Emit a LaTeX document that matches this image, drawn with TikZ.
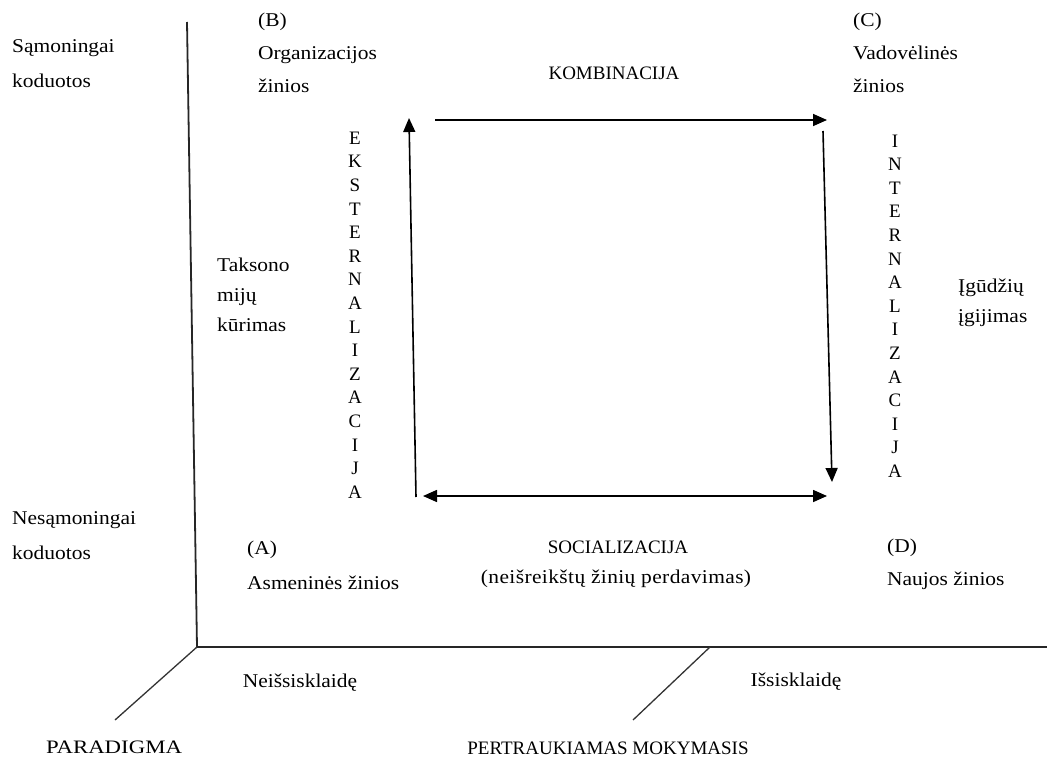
\documentclass[tikz,border=0pt]{standalone}
\usepackage{fontspec}
\setmainfont{Liberation Serif}
\usetikzlibrary{arrows.meta}
\newcommand{\wide}{\addfontfeature{FakeStretch=1.1}}
\begin{document}
\begin{tikzpicture}[x=1pt,y=-1pt,
  txt/.style={inner sep=0pt, font=\fontsize{19.5}{30}\selectfont\wide},
  caps/.style={inner sep=0pt, font=\fontsize{19}{30}\selectfont},
  lines35/.style={txt, align=left, font=\fontsize{19.5}{35}\selectfont\wide},
  lines33/.style={txt, align=left, font=\fontsize{19.5}{33}\selectfont\wide},
  lines30/.style={txt, align=left, font=\fontsize{19.5}{30}\selectfont\wide},
  column/.style={txt, align=center, font=\fontsize{19}{23.6}\selectfont},
  axis/.style={line width=1.8pt, draw=black!85},
  slant/.style={line width=1.3pt, draw=black!80},
  flow/.style={line width=1.6pt, -{Triangle[length=14pt,width=12pt]}},
  flowboth/.style={line width=1.6pt, {Triangle[length=14pt,width=12pt]}-{Triangle[length=14pt,width=12pt]}}]
\useasboundingbox (0,0) rectangle (1047,757);

% axes of the three-dimensional frame
\coordinate (o) at (197,647);
\coordinate (ytop) at (187,22);
\coordinate (xend) at (1047,647);
\coordinate (pd) at (115,720);
\coordinate (m1) at (710,647);
\coordinate (m2) at (633,720);
\draw[axis] (ytop) -- (o) -- (xend);
\draw[slant] (o) -- (pd);
\draw[slant] (m1) -- (m2);

% knowledge conversion cycle
\coordinate (eb) at (416,497);
\coordinate (et) at (409,118);
\coordinate (kl) at (435,120);
\coordinate (kr) at (827,120);
\coordinate (it) at (823,131);
\coordinate (ib) at (832,482);
\coordinate (sl) at (423,496);
\coordinate (sr) at (827,496);
\draw[flow] (eb) -- (et);
\draw[flow] (kl) -- (kr);
\draw[flow] (it) -- (ib);
\draw[flowboth] (sl) -- (sr);

% vertical axis labels
\node[lines35, anchor=west] (conscious) at (12,64) {Sąmoningai\\koduotos};
\node[lines35, anchor=west] (unconscious) at (12,536) {Nesąmoningai\\koduotos};

% quadrant labels
\node[lines33, anchor=west] (qb) at (258,53) {(B)\\Organizacijos\\žinios};
\node[lines33, anchor=west] (qc) at (853,53) {(C)\\Vadovėlinės\\žinios};
\node[lines35, anchor=west] (qa) at (247,565) {(A)\\Asmeninės žinios};
\node[lines33, anchor=west] (qd) at (887,564) {(D)\\Naujos žinios};

% conversion process labels
\node[caps] (komb) at (614,73) {KOMBINACIJA};
\node[caps] (soc) at (618,547) {SOCIALIZACIJA};
\node[txt, font=\fontsize{19.5}{30}\selectfont\wide\addfontfeature{LetterSpace=2}] (socsub) at (616,579) {(neišreikštų žinių perdavimas)};
\node[column] (ext) at (355,315) {E\\K\\S\\T\\E\\R\\N\\A\\L\\I\\Z\\A\\C\\I\\J\\A};
\node[column] (int) at (895,306) {I\\N\\T\\E\\R\\N\\A\\L\\I\\Z\\A\\C\\I\\J\\A};
\node[lines30, anchor=west] (tax) at (217,295) {Taksono\\mijų\\kūrimas};
\node[lines30, anchor=west] (skill) at (958,303) {Įgūdžių\\įgijimas};

% horizontal axis labels
\node[txt] (dispersed0) at (300,683) {Neišsisklaidę};
\node[txt] (dispersed1) at (796,682) {Išsisklaidę};
\node[caps, font=\fontsize{19}{30}\selectfont\addfontfeature{FakeStretch=1.2}] (paradigm) at (114,747) {PARADIGMA};
\node[caps] (learning) at (608,748) {PERTRAUKIAMAS MOKYMASIS};
\end{tikzpicture}
\end{document}
